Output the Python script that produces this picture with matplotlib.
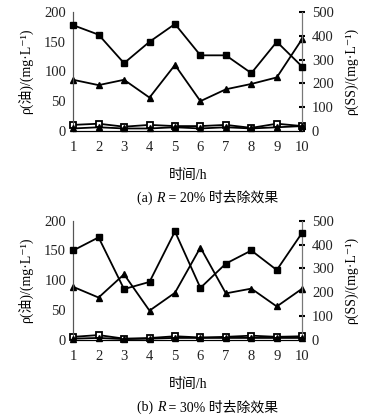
import numpy as np
import matplotlib.pyplot as plt

plt.rcParams['font.family'] = ['Liberation Serif', 'DejaVu Serif', 'Noto Sans CJK SC']

hours = np.arange(1, 11)

# R = 20 %
ss_in_a = [445, 405, 285, 375, 450, 318, 318, 243, 375, 270]
oil_in_a = [86, 77, 86, 56, 111, 50, 70, 79, 90, 155]
oil_out_a = [10, 12, 7, 10, 8, 8, 10, 5, 12, 8]
ss_out_a = [10, 15, 10, 10, 15, 10, 15, 10, 15, 20]

# R = 30 %
ss_in_b = [375, 430, 213, 243, 455, 218, 320, 375, 293, 450]
oil_in_b = [89, 71, 110, 49, 79, 155, 78, 86, 56, 86]
oil_out_b = [5, 8, 2, 3, 6, 4, 5, 7, 5, 6]
ss_out_b = [5, 8, 3, 5, 8, 8, 8, 8, 8, 8]

tags = ['(a)', '(b)']
ratios = ['20%', '30%']

fig = plt.figure(figsize=(3.75, 4.18), dpi=100)
boxes = [[0.195, 0.687, 0.611, 0.284], [0.195, 0.187, 0.611, 0.285]]
data = [(ss_in_a, oil_in_a, oil_out_a, ss_out_a), (ss_in_b, oil_in_b, oil_out_b, ss_out_b)]

for box, (ssi, oi, oo, sso), tag, ratio in zip(boxes, data, tags, ratios):
    ax = fig.add_axes(box)
    ax2 = ax.twinx()
    ax.plot(hours, oi, color='black', lw=1.3, marker='^', ms=5, clip_on=False, zorder=3)
    ax.plot(hours, oo, color='black', lw=1.3, marker='s', ms=4.5, mfc='white',
            mew=1.3, clip_on=False, zorder=3)
    ax2.plot(hours, ssi, color='black', lw=1.3, marker='s', ms=5, clip_on=False, zorder=3)
    ax2.plot(hours, sso, color='black', lw=1.3, marker='^', ms=4, clip_on=False, zorder=3)

    ax.set_xlim(1, 10)
    ax.set_ylim(0, 200)
    ax2.set_ylim(0, 500)
    ax.set_xticks(hours)
    ax.set_yticks([0, 50, 100, 150, 200])
    ax2.set_yticks([0, 100, 200, 300, 400, 500])
    for a in (ax, ax2):
        a.spines['top'].set_visible(False)
        a.spines['left'].set_color('#555555')
        a.spines['right'].set_color('#777777')
        a.tick_params(labelsize=10.5, colors='#222222')
    ax.tick_params(axis='x', length=0, pad=7)
    ax.tick_params(axis='y', length=0, pad=5)
    ax2.tick_params(axis='y', direction='inout', length=4, width=1.5, color='black', pad=5)

    ax.set_ylabel('ρ(油)/(mg·L⁻¹)', fontsize=10, labelpad=8)
    ax2.set_ylabel('ρ(SS)/(mg·L⁻¹)', fontsize=10, labelpad=8)
    ax.set_xlabel('时间/h', fontsize=10, labelpad=11)

    t1 = ax.text(0.28, -0.57, tag + ' ', transform=ax.transAxes, ha='left', va='center',
                 fontsize=10)
    t2 = ax.annotate('R', xy=(1, 0.5), xycoords=t1, ha='left', va='center',
                     fontsize=10, style='italic')
    ax.annotate(' = ' + ratio + ' 时去除效果', xy=(1, 0.5), xycoords=t2, ha='left',
                va='center', fontsize=10)

fig.savefig('out.png', dpi=100)
